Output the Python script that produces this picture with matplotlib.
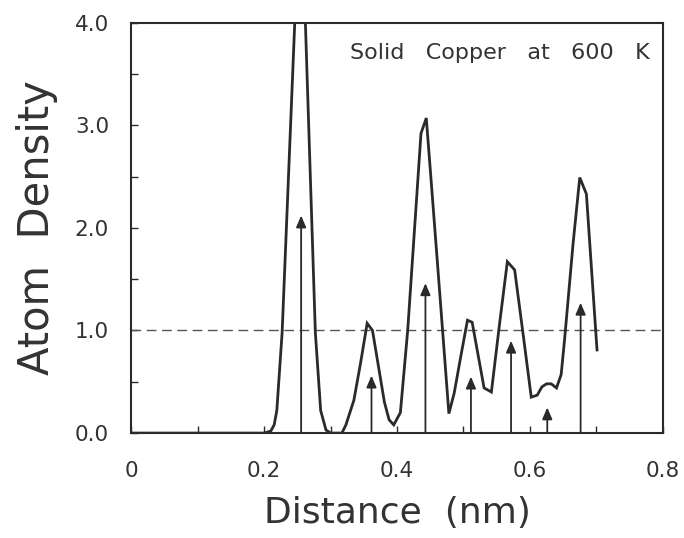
import matplotlib
matplotlib.use('Agg')
from matplotlib import pyplot as plt
from matplotlib.ticker import MultipleLocator, FixedLocator

# radial atom density of solid copper at 600 K
distance = [0.0, 0.200, 0.210, 0.215, 0.219, 0.227, 0.246, 0.255, 0.262, 0.277,
            0.285, 0.293, 0.300, 0.317, 0.323, 0.335, 0.345, 0.355, 0.363, 0.372,
            0.381, 0.388, 0.395, 0.405, 0.416, 0.436, 0.444, 0.452, 0.465, 0.478,
            0.486, 0.496, 0.506, 0.513, 0.531, 0.542, 0.554, 0.566, 0.577, 0.590,
            0.602, 0.611, 0.618, 0.625, 0.632, 0.640, 0.647, 0.652, 0.665, 0.675,
            0.685, 0.701]
density = [0.0, 0.0, 0.02, 0.08, 0.22, 0.98, 4.0, 5.4, 4.0, 0.98,
           0.22, 0.03, 0.0, 0.0, 0.08, 0.32, 0.68, 1.07, 1.00, 0.65,
           0.30, 0.13, 0.08, 0.20, 1.00, 2.92, 3.07, 2.40, 1.30, 0.19,
           0.39, 0.75, 1.10, 1.08, 0.44, 0.40, 1.05, 1.67, 1.59, 0.95,
           0.35, 0.37, 0.45, 0.48, 0.48, 0.44, 0.57, 0.90, 1.85, 2.49,
           2.33, 0.81]

# fcc neighbour shells (arrows)
shell_r = [0.2556, 0.3615, 0.4427, 0.5112, 0.5716, 0.6261, 0.6763]
shell_h = [2.12, 0.56, 1.46, 0.55, 0.90, 0.25, 1.27]

xticks = [0, 0.2, 0.4, 0.6, 0.8]
xticklabels = ['0', '0.2', '0.4', '0.6', '0.8']
yticks = [0.0, 1.0, 2.0, 3.0, 4.0]
yticklabels = ['0.0', '1.0', '2.0', '3.0', '4.0']

ink = '#2a2a2a'
plt.rcParams['font.family'] = ['DejaVu Sans']

fig = plt.figure(figsize=(6.84, 5.38), dpi=100)
ax = fig.add_axes([0.192, 0.195, 0.777, 0.763])

ax.axhline(1.0, color='#555555', lw=1.0, dashes=(7, 4))
ax.plot(distance, density, color=ink, lw=2.0, solid_joinstyle='miter')

for r, h in zip(shell_r, shell_h):
    ax.annotate('', xy=(r, h), xytext=(r, 0),
                arrowprops=dict(arrowstyle='-|>,head_length=0.7,head_width=0.3',
                                lw=1.3, color=ink, shrinkA=0, shrinkB=0))

ax.set_xlim(0, 0.8)
ax.set_ylim(0, 4.0)
ax.xaxis.set_major_locator(FixedLocator(xticks))
ax.set_xticklabels(xticklabels)
ax.xaxis.set_minor_locator(MultipleLocator(0.1))
ax.yaxis.set_major_locator(FixedLocator(yticks))
ax.set_yticklabels(yticklabels)
ax.yaxis.set_minor_locator(MultipleLocator(0.5))

ax.tick_params(axis='both', which='both', direction='in', length=5, width=1,
               color=ink, labelcolor='#333333', labelsize=15.5)
ax.tick_params(axis='x', which='major', pad=20)
ax.tick_params(axis='y', which='major', pad=16)
for s in ax.spines.values():
    s.set_color(ink)
    s.set_linewidth(1.5)

ax.text(0.975, 0.925, 'Solid   Copper   at   600   K', transform=ax.transAxes,
        ha='right', va='center', fontsize=16, color='#333333')

ax.set_xlabel('Distance  (nm)', fontsize=26, color='#333333', labelpad=11)
ax.set_ylabel('Atom  Density', fontsize=30, color='#333333', labelpad=12)

plt.savefig('out.png', dpi=100)
